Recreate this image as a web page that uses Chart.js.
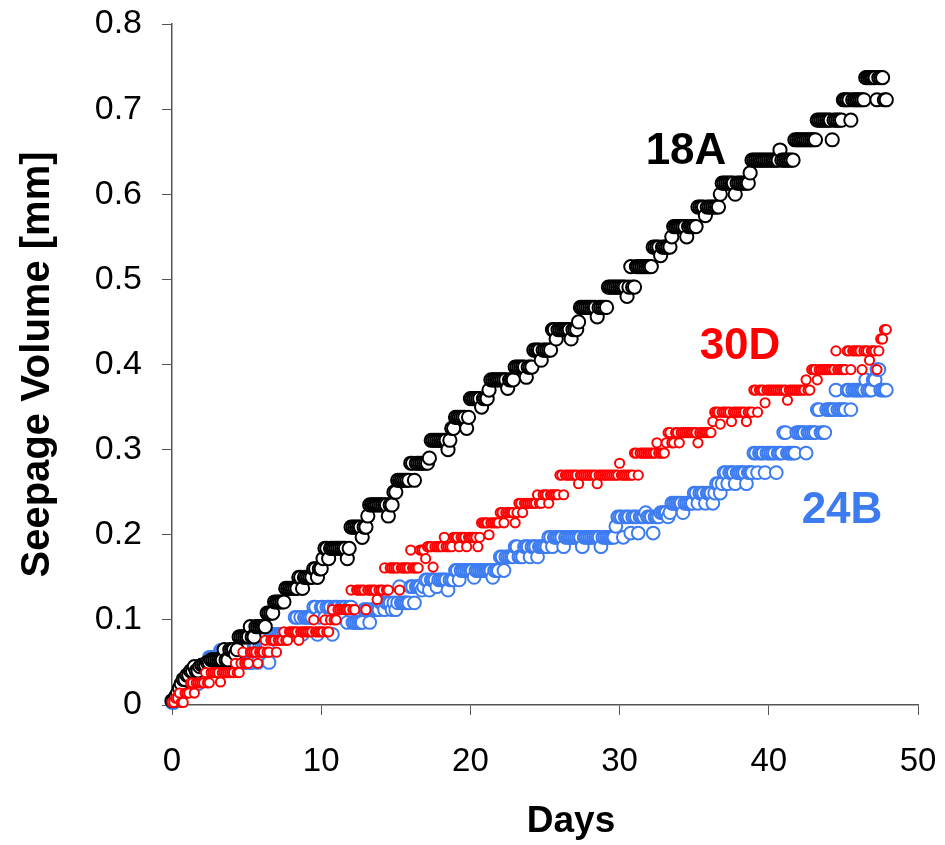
<!DOCTYPE html>
<html>
<head>
<meta charset="utf-8">
<script src="https://cdn.jsdelivr.net/npm/chart.js@4/dist/chart.umd.min.js"></script>
<style>
html,body{margin:0;padding:0;background:#fff;}
#wrap{width:945px;height:845px;}
</style>
</head>
<body>
<div id="wrap"><canvas id="c" width="945" height="845"></canvas></div>
<script>
const days = [
0,0.125,0.25,0.375,0.5,0.625,0.75,0.875, 1,1.125,1.25,1.375,1.5,1.625,1.75,1.875,
2,2.125,2.25,2.375,2.5,2.625,2.75,2.875, 3,3.125,3.25,3.375,3.5,3.625,3.75,3.875,
4,4.125,4.25,4.375,4.5,4.625,4.75,4.875, 5,5.125,5.25,5.375,5.5,5.625,5.75,5.875,
6,6.125,6.25,6.375,6.5,6.625,6.75,6.875, 7,7.125,7.25,7.375,7.5,7.625,7.75,7.875,
8,8.125,8.25,8.375,8.5,8.625,8.75,8.875, 9,9.125,9.25,9.375,9.5,9.625,9.75,9.875,
10,10.125,10.25,10.375,10.5,10.625,10.75,10.875, 11,11.125,11.25,11.375,11.5,11.625,11.75,11.875,
12,12.125,12.25,12.375,12.5,12.625,12.75,12.875, 13,13.125,13.25,13.375,13.5,13.625,13.75,13.875,
14,14.125,14.25,14.375,14.5,14.625,14.75,14.875, 15,15.125,15.25,15.375,15.5,15.625,15.75,15.875,
16,16.125,16.25,16.375,16.5,16.625,16.75,16.875, 17,17.125,17.25,17.375,17.5,17.625,17.75,17.875,
18,18.125,18.25,18.375,18.5,18.625,18.75,18.875, 19,19.125,19.25,19.375,19.5,19.625,19.75,19.875,
20,20.125,20.25,20.375,20.5,20.625,20.75,20.875, 21,21.125,21.25,21.375,21.5,21.625,21.75,21.875,
22,22.125,22.25,22.375,22.5,22.625,22.75,22.875, 23,23.125,23.25,23.375,23.5,23.625,23.75,23.875,
24,24.125,24.25,24.375,24.5,24.625,24.75,24.875, 25,25.125,25.25,25.375,25.5,25.625,25.75,25.875,
26,26.125,26.25,26.375,26.5,26.625,26.75,26.875, 27,27.125,27.25,27.375,27.5,27.625,27.75,27.875,
28,28.125,28.25,28.375,28.5,28.625,28.75,28.875, 29,29.125,29.25,29.375,29.5,29.625,29.75,29.875,
30,30.125,30.25,30.375,30.5,30.625,30.75,30.875, 31,31.125,31.25,31.375,31.5,31.625,31.75,31.875,
32,32.125,32.25,32.375,32.5,32.625,32.75,32.875, 33,33.125,33.25,33.375,33.5,33.625,33.75,33.875,
34,34.125,34.25,34.375,34.5,34.625,34.75,34.875, 35,35.125,35.25,35.375,35.5,35.625,35.75,35.875,
36,36.125,36.25,36.375,36.5,36.625,36.75,36.875, 37,37.125,37.25,37.375,37.5,37.625,37.75,37.875,
38,38.125,38.25,38.375,38.5,38.625,38.75,38.875, 39,39.125,39.25,39.375,39.5,39.625,39.75,39.875,
40,40.125,40.25,40.375,40.5,40.625,40.75,40.875, 41,41.125,41.25,41.375,41.5,41.625,41.75,41.875,
42,42.125,42.25,42.375,42.5,42.625,42.75,42.875, 43,43.125,43.25,43.375,43.5,43.625,43.75,43.875,
44,44.125,44.25,44.375,44.5,44.625,44.75,44.875, 45,45.125,45.25,45.375,45.5,45.625,45.75,45.875,
46,46.125,46.25,46.375,46.5,46.625,46.75,46.875, 47,47.125,47.25,47.375,47.5,47.625,47.75,47.875
];

const seepage18A = [
0.005,0.005,0.01,0.014,0.02,0.025,0.03,0.03,
0.035,0.035,0.04,0.04,0.045,0.04,0.04,0.045,
0.047,0.047,0.047,0.05,0.05,0.053,0.053,0.053,
0.053,0.053,0.053,0.053,0.065,0.053,0.053,0.065,
0.065,0.065,0.06,0.065,0.08,0.08,0.08,0.08,
0.08,0.08,0.092,0.08,0.08,0.092,0.092,0.092,
0.092,0.092,0.092,0.108,0.108,0.108,0.108,0.121,
0.121,0.121,0.121,0.121,0.121,0.137,0.137,0.137,
0.137,0.137,0.137,0.137,0.15,0.15,0.137,0.15,
0.15,0.15,0.15,0.15,0.16,0.16,0.15,0.16,
0.16,0.172,0.184,0.184,0.172,0.184,0.184,0.184,
0.184,0.184,0.184,0.184,0.184,0.184,0.172,0.184,
0.209,0.209,0.209,0.209,0.209,0.209,0.197,0.209,
0.209,0.222,0.235,0.235,0.235,0.235,0.235,0.235,
0.235,0.235,0.235,0.235,0.222,0.235,0.235,0.25,
0.25,0.264,0.264,0.264,0.264,0.264,0.264,0.264,
0.284,0.284,0.264,0.284,0.284,0.284,0.284,0.284,
0.284,0.284,0.29,0.311,0.311,0.311,0.311,0.311,
0.311,0.311,0.311,0.311,0.3,0.311,0.325,0.325,
0.338,0.338,0.338,0.338,0.338,0.338,0.325,0.338,
0.36,0.36,0.36,0.36,0.36,0.36,0.35,0.36,
0.36,0.36,0.37,0.382,0.382,0.382,0.382,0.382,
0.382,0.382,0.382,0.382,0.372,0.382,0.382,0.382,
0.397,0.397,0.397,0.397,0.397,0.397,0.385,0.397,
0.397,0.397,0.417,0.417,0.417,0.417,0.405,0.417,
0.417,0.417,0.417,0.417,0.441,0.441,0.43,0.441,
0.441,0.441,0.441,0.441,0.441,0.441,0.43,0.441,
0.441,0.441,0.45,0.467,0.467,0.467,0.467,0.467,
0.467,0.467,0.467,0.467,0.456,0.467,0.467,0.467,
0.467,0.467,0.491,0.491,0.491,0.491,0.491,0.491,
0.491,0.491,0.491,0.491,0.48,0.491,0.515,0.491,
0.491,0.515,0.515,0.515,0.515,0.515,0.515,0.515,
0.515,0.515,0.538,0.538,0.538,0.538,0.528,0.538,
0.538,0.538,0.538,0.538,0.55,0.562,0.562,0.562,
0.562,0.562,0.562,0.562,0.55,0.562,0.562,0.562,
0.562,0.562,0.585,0.585,0.585,0.585,0.575,0.585,
0.585,0.585,0.585,0.585,0.585,0.585,0.6,0.613,
0.613,0.613,0.613,0.613,0.613,0.613,0.6,0.613,
0.613,0.613,0.613,0.613,0.613,0.613,0.625,0.64,
0.64,0.64,0.64,0.64,0.64,0.64,0.64,0.64,
0.64,0.64,0.64,0.64,0.64,0.64,0.652,0.64,
0.64,0.64,0.64,0.64,0.64,0.64,0.664,0.664,
0.664,0.664,0.664,0.664,0.664,0.664,0.664,0.664,
0.664,0.664,0.687,0.687,0.687,0.687,0.687,0.687,
0.687,0.687,0.664,0.687,0.687,0.687,0.687,0.687,
0.711,0.711,0.711,0.711,0.687,0.711,0.711,0.711,
0.711,0.711,0.711,0.711,0.737,0.737,0.737,0.737,
0.737,0.737,0.711,0.737,0.737,0.737,0.711,0.711
];

const seepage30D = [
0.003,0.003,0.008,0.008,0.014,0.003,0.003,0.014,
0.014,0.014,0.026,0.026,0.014,0.026,0.026,0.026,
0.026,0.026,0.038,0.026,0.026,0.038,0.038,0.038,
0.038,0.038,0.027,0.038,0.038,0.038,0.038,0.038,
0.038,0.038,0.049,0.038,0.038,0.049,0.062,0.049,
0.049,0.049,0.062,0.062,0.062,0.062,0.049,0.062,
0.062,0.062,0.076,0.062,0.062,0.076,0.076,0.076,
0.062,0.076,0.076,0.076,0.086,0.076,0.076,0.086,
0.086,0.086,0.086,0.086,0.076,0.086,0.086,0.086,
0.086,0.086,0.086,0.086,0.1,0.086,0.086,0.086,
0.086,0.086,0.1,0.086,0.086,0.1,0.112,0.1,
0.1,0.112,0.112,0.112,0.112,0.112,0.112,0.112,
0.135,0.112,0.112,0.135,0.135,0.135,0.135,0.135,
0.112,0.135,0.135,0.135,0.135,0.135,0.124,0.135,
0.135,0.135,0.161,0.135,0.135,0.161,0.161,0.161,
0.161,0.161,0.135,0.161,0.161,0.161,0.161,0.161,
0.182,0.161,0.161,0.161,0.161,0.182,0.182,0.182,
0.172,0.186,0.186,0.186,0.162,0.186,0.186,0.186,
0.186,0.186,0.197,0.186,0.186,0.186,0.186,0.197,
0.197,0.197,0.186,0.197,0.197,0.197,0.186,0.197,
0.197,0.197,0.197,0.197,0.186,0.197,0.214,0.214,
0.214,0.214,0.2,0.214,0.214,0.214,0.214,0.214,
0.226,0.226,0.214,0.226,0.226,0.226,0.226,0.226,
0.214,0.226,0.237,0.237,0.226,0.237,0.237,0.237,
0.237,0.237,0.237,0.237,0.247,0.237,0.237,0.247,
0.247,0.247,0.237,0.247,0.247,0.247,0.247,0.247,
0.27,0.27,0.247,0.27,0.27,0.27,0.27,0.27,
0.27,0.27,0.26,0.27,0.27,0.27,0.27,0.27,
0.27,0.27,0.27,0.27,0.26,0.27,0.27,0.27,
0.27,0.27,0.27,0.27,0.27,0.27,0.27,0.27,
0.284,0.27,0.27,0.27,0.27,0.27,0.27,0.27,
0.296,0.296,0.27,0.296,0.296,0.296,0.296,0.296,
0.296,0.296,0.296,0.296,0.308,0.296,0.296,0.296,
0.296,0.308,0.32,0.32,0.308,0.308,0.32,0.32,
0.308,0.32,0.32,0.32,0.32,0.32,0.32,0.32,
0.32,0.32,0.308,0.32,0.32,0.32,0.32,0.32,
0.32,0.32,0.333,0.344,0.344,0.344,0.33,0.344,
0.344,0.344,0.344,0.344,0.333,0.344,0.344,0.344,
0.344,0.344,0.344,0.344,0.333,0.344,0.344,0.344,
0.37,0.37,0.344,0.37,0.37,0.37,0.355,0.37,
0.37,0.37,0.37,0.37,0.37,0.37,0.37,0.37,
0.37,0.37,0.358,0.37,0.37,0.37,0.37,0.37,
0.37,0.37,0.37,0.37,0.382,0.37,0.37,0.394,
0.394,0.394,0.382,0.394,0.394,0.394,0.394,0.394,
0.394,0.394,0.394,0.394,0.416,0.394,0.394,0.394,
0.394,0.394,0.416,0.416,0.394,0.416,0.416,0.416,
0.416,0.416,0.394,0.416,0.416,0.416,0.405,0.416,
0.416,0.416,0.394,0.416,0.43,0.43,0.441,0.441
];

const seepage24B = [
0.003,0.003,0.008,0.008,0.012,0.012,0.02,0.02,
0.02,0.02,0.025,0.025,0.03,0.03,0.025,0.035,
0.035,0.045,0.045,0.045,0.056,0.056,0.045,0.056,
0.056,0.056,0.064,0.064,0.056,0.056,0.056,0.056,
0.05,0.05,0.05,0.05,0.056,0.05,0.05,0.05,
0.05,0.05,0.05,0.05,0.068,0.068,0.05,0.068,
0.068,0.068,0.068,0.068,0.05,0.083,0.083,0.083,
0.083,0.083,0.083,0.083,0.083,0.083,0.083,0.083,
0.083,0.083,0.103,0.103,0.083,0.103,0.083,0.103,
0.103,0.103,0.103,0.103,0.115,0.115,0.083,0.103,
0.115,0.115,0.103,0.115,0.115,0.115,0.083,0.115,
0.115,0.115,0.103,0.115,0.115,0.115,0.097,0.115,
0.115,0.097,0.097,0.097,0.097,0.097,0.097,0.112,
0.112,0.112,0.097,0.112,0.112,0.112,0.112,0.112,
0.12,0.12,0.112,0.12,0.12,0.12,0.112,0.12,
0.112,0.12,0.139,0.12,0.12,0.12,0.12,0.12,
0.139,0.139,0.12,0.139,0.139,0.139,0.135,0.139,
0.147,0.147,0.135,0.147,0.147,0.147,0.139,0.147,
0.147,0.147,0.147,0.147,0.135,0.147,0.147,0.147,
0.158,0.158,0.147,0.158,0.158,0.158,0.158,0.158,
0.158,0.158,0.15,0.158,0.158,0.158,0.158,0.158,
0.158,0.158,0.158,0.158,0.15,0.158,0.158,0.158,
0.174,0.174,0.158,0.174,0.174,0.174,0.174,0.174,
0.186,0.186,0.174,0.174,0.174,0.186,0.186,0.186,
0.174,0.186,0.186,0.186,0.174,0.186,0.186,0.186,
0.186,0.186,0.197,0.197,0.186,0.197,0.197,0.197,
0.197,0.197,0.186,0.197,0.197,0.197,0.197,0.197,
0.197,0.197,0.197,0.197,0.186,0.197,0.197,0.197,
0.197,0.197,0.197,0.197,0.197,0.197,0.186,0.197,
0.197,0.197,0.197,0.197,0.197,0.197,0.21,0.221,
0.221,0.221,0.197,0.221,0.221,0.221,0.202,0.221,
0.221,0.221,0.202,0.221,0.221,0.221,0.226,0.221,
0.221,0.221,0.202,0.221,0.221,0.221,0.226,0.226,
0.226,0.226,0.221,0.226,0.237,0.237,0.237,0.237,
0.237,0.237,0.226,0.237,0.237,0.237,0.237,0.237,
0.249,0.249,0.237,0.249,0.249,0.249,0.237,0.249,
0.249,0.249,0.237,0.249,0.26,0.26,0.249,0.26,
0.273,0.273,0.26,0.273,0.273,0.273,0.26,0.273,
0.273,0.273,0.273,0.273,0.26,0.273,0.273,0.273,
0.296,0.296,0.273,0.296,0.296,0.296,0.273,0.296,
0.296,0.296,0.296,0.296,0.273,0.296,0.296,0.296,
0.32,0.32,0.296,0.296,0.296,0.296,0.296,0.32,
0.32,0.32,0.32,0.32,0.296,0.32,0.32,0.32,
0.32,0.32,0.347,0.347,0.32,0.32,0.32,0.347,
0.347,0.347,0.347,0.347,0.37,0.347,0.347,0.347,
0.347,0.347,0.37,0.37,0.347,0.37,0.37,0.37,
0.37,0.37,0.37,0.37,0.382,0.37,0.37,0.37,
0.382,0.382,0.394,0.394,0.37,0.37,0.37,0.37
];

const seriesNames = ['30D', '18A', '24B'];
const xTicks = [0, 10, 20, 30, 40, 50];
const yTicks = [0, 0.1, 0.2, 0.3, 0.4, 0.5, 0.6, 0.7, 0.8];

const toPoints = vals => days.map((d, i) => ({x: d, y: vals[i]}));

const AXIS = '#555';

const labelPlugin = {
  id: 'seriesLabels',
  afterDraw(chart) {
    const ctx = chart.ctx;
    ctx.save();
    ctx.textAlign = 'center';
    ctx.textBaseline = 'middle';
    ctx.font = 'bold 44px "Liberation Sans", Arial, sans-serif';
    ctx.fillStyle = '#000000';
    ctx.fillText('18A', 686, 152);
    ctx.fillStyle = '#ff0000';
    ctx.fillText('30D', 740, 347);
    ctx.fillStyle = '#3d7cf0';
    ctx.fillText('24B', 842, 511);
    ctx.font = 'bold 37px "Liberation Sans", Arial, sans-serif';
    ctx.fillStyle = '#000000';
    ctx.fillText('Days', 571, 822);
    ctx.restore();
  }
};

new Chart(document.getElementById('c'), {
  type: 'scatter',
  data: {
    datasets: [
      {
        label: seriesNames[0], data: toPoints(seepage30D),
        pointRadius: 4.6, pointBorderWidth: 2, borderColor: '#ff0000', backgroundColor: '#ffffff',
        pointBackgroundColor: '#ffffff', pointBorderColor: '#ff0000', clip: false
      },
      {
        label: seriesNames[1], data: toPoints(seepage18A),
        pointRadius: 6.6, pointBorderWidth: 2, borderColor: '#000000', backgroundColor: '#ffffff',
        pointBackgroundColor: '#ffffff', pointBorderColor: '#000000', clip: false
      },
      {
        label: seriesNames[2], data: toPoints(seepage24B),
        pointRadius: 6.4, pointBorderWidth: 2, borderColor: '#3d7cf0', backgroundColor: '#ffffff',
        pointBackgroundColor: '#ffffff', pointBorderColor: '#3d7cf0', clip: false
      }
    ]
  },
  options: {
    responsive: false,
    animation: false,
    devicePixelRatio: 1,
    layout: {padding: {left: 0, top: 24, right: 27, bottom: 0}},
    plugins: {legend: {display: false}, tooltip: {enabled: false}},
    scales: {
      x: {
        type: 'linear', min: 0, max: 50,
        afterFit(s) { s.height = 140; s.paddingLeft = 0; s.paddingRight = 0; },
        afterBuildTicks(s) { s.ticks = xTicks.map(v => ({value: v})); },
        grid: {drawOnChartArea: false, drawTicks: true, tickLength: 10, color: AXIS, lineWidth: 1},
        border: {display: true, color: AXIS, width: 1.5},
        ticks: {color: '#000', padding: 27, font: {family: '"Liberation Sans", Arial, sans-serif', size: 33}, maxRotation: 0},
        title: {display: false, text: 'Days'}
      },
      y: {
        type: 'linear', min: 0, max: 0.8,
        afterFit(s) { s.width = 172; s.paddingTop = 0; s.paddingBottom = 0; },
        afterBuildTicks(s) { s.ticks = yTicks.map(v => ({value: v})); },
        grid: {drawOnChartArea: false, drawTicks: true, tickLength: 10, color: AXIS, lineWidth: 1},
        border: {display: true, color: AXIS, width: 1.5},
        ticks: {color: '#000', padding: 20, font: {family: '"Liberation Sans", Arial, sans-serif', size: 34},
          callback: v => String(Math.round(v * 10) / 10)},
        title: {display: true, text: 'Seepage Volume [mm]', color: '#000',
          font: {family: '"Liberation Sans", Arial, sans-serif', size: 40, weight: 'bold'},
          padding: {top: 14, bottom: 0}}
      }
    }
  },
  plugins: [labelPlugin]
});
</script>
</body>
</html>
